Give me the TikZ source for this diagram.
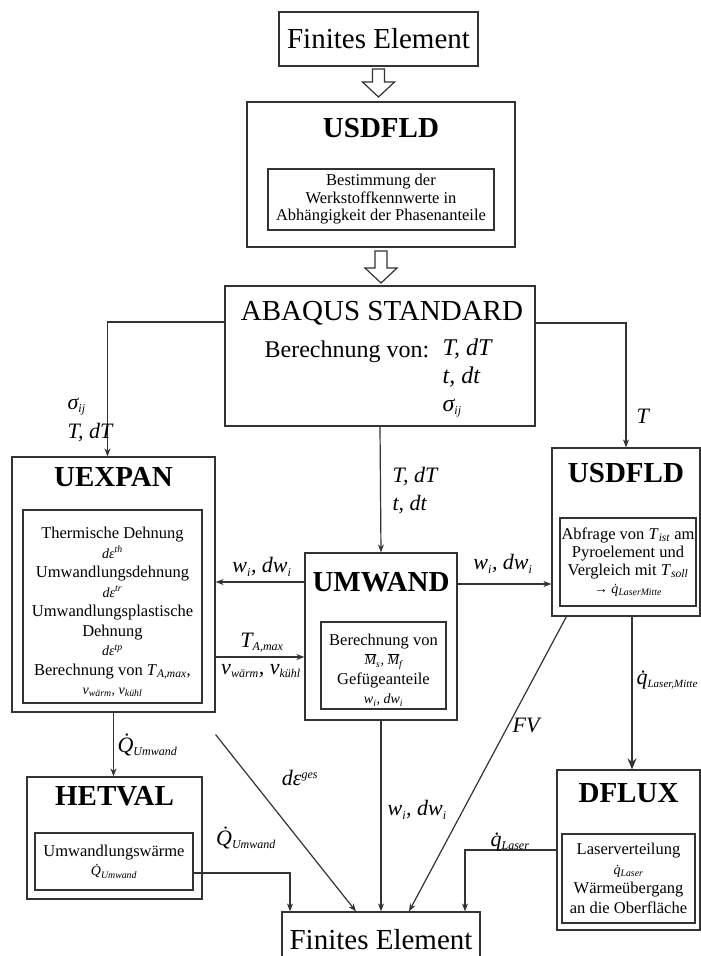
\documentclass[tikz,border=0pt]{standalone}
\usepackage{fontspec}
\setmainfont{Liberation Serif}
\usetikzlibrary{arrows.meta}
\tikzset{every picture/.style={line width=1.2pt}}
\tikzset{
  box/.style={draw=black!80, inner sep=0pt},
  inbox/.style={draw=black!80, inner sep=0pt, align=center, font=\fontsize{16.5}{19.5}\selectfont},
  intext/.style={inner sep=0pt, align=center, font=\fontsize{16.5}{19.5}\selectfont},
  title/.style={font=\fontsize{29}{32}\selectfont\bfseries, inner sep=0pt},
  lab/.style={font=\fontsize{22}{26}\selectfont\itshape, inner sep=1pt},
  arr/.style={draw=black!80, -{Stealth[length=8pt,width=6pt]}},
  pics/hollowarrow/.style={code={\draw[draw=black!80, fill=white] (-6,0) -- (-6,-#1) -- (-16,-#1) -- (0,-#1-15) -- (16,-#1) -- (6,-#1) -- (6,0) -- cycle;}}
}
\newcommand{\smallvar}[1]{{\fontsize{14}{19}\selectfont\itshape #1}}
\newcommand{\lsub}[1]{\textsubscript{\fontsize{12}{12}\selectfont #1}}
\newcommand{\lsup}[1]{\textsuperscript{\fontsize{12}{12}\selectfont #1}}

\begin{document}
\begin{tikzpicture}[x=1pt,y=1pt,yscale=-1,xscale=1]
\clip (0,0) rectangle (701,956);

%Top element
\node[box, minimum width=199pt, minimum height=54pt, font=\fontsize{29}{32}\selectfont] (fe1) at (378.5,39) {Finites Element};
\pic at (378.5,69) {hollowarrow=13};

%USDFLD (top)
\node[box, minimum width=268pt, minimum height=145pt] (usd1) at (381,174.5) {};
\node[title] (usd1T) at (381,128) {USDFLD};
\node[inbox, minimum width=226pt, minimum height=61pt, font=\fontsize{16.5}{17.5}\selectfont] (usd1I) at (381,199.5) {Bestimmung der\\Werkstoffkennwerte in\\Abhängigkeit der Phasenanteile};
\pic at (381,251) {hollowarrow=17};

%ABAQUS
\node[box, minimum width=310pt, minimum height=140pt] (abq) at (380,356) {};
\node[inner sep=0pt, font=\fontsize{29}{30}\selectfont] (abqT) at (382,313) {ABAQUS STANDARD};
\node[anchor=west, inner sep=0pt, font=\fontsize{24}{28}\selectfont] (abqB) at (264,352) {Berechnung von:};
\node[anchor=north west, inner sep=0pt, align=left, font=\fontsize{24}{28}\selectfont\itshape] (abqV) at (442,338) {T, dT\\t, dt\\σ\lsub{ij}};

%UEXPAN
\node[box, minimum width=203pt, minimum height=255pt] (uexp) at (113.5,584.5) {};
\node[title] (uexpT) at (113.5,477) {UEXPAN};
\node[box, minimum width=179pt, minimum height=193pt] (uexpI) at (112.5,606.5) {};
\node[intext] (uexpTx) at (112.5,612) {Thermische Dehnung\\\smallvar{dε\textsuperscript{th}}\\Umwandlungsdehnung\\\smallvar{dε\textsuperscript{tr}}\\Umwandlungsplastische\\Dehnung\\\smallvar{dε\textsuperscript{tp}}\\Berechnung von \textit{T}\textsubscript{\itshape A,max},\\\smallvar{v\textsubscript{wärm}, v\textsubscript{kühl}}};

%UMWAND
\node[box, minimum width=152pt, minimum height=167pt] (umw) at (381,636.5) {};
\node[title] (umwT) at (381,582) {UMWAND};
\node[box, minimum width=125pt, minimum height=87pt] (umwI) at (383.5,665.5) {};
\node[intext] (umwTx) at (383.5,670) {Berechnung von\\\smallvar{$\overline{\mbox{\itshape M}}$\textsubscript{s}, $\overline{\mbox{\itshape M}}$\textsubscript{f}}\\Gefügeanteile\\\smallvar{w\textsubscript{i}, dw\textsubscript{i}}};

%USDFLD (right)
\node[box, minimum width=148pt, minimum height=168pt] (usd2) at (626,532) {};
\node[title] (usd2T) at (626,473) {USDFLD};
\node[inbox, minimum width=136pt, minimum height=88pt, font=\fontsize{16.5}{18}\selectfont] (usd2I) at (628,562) {Abfrage von \textit{T}\textsubscript{\itshape ist} am\\Pyroelement und\\Vergleich mit \textit{T}\textsubscript{\itshape soll}\\\smallvar{→ \.{q}\textsubscript{LaserMitte}}};

%HETVAL
\node[box, minimum width=175pt, minimum height=122pt] (hetv) at (114.5,838) {};
\node[title] (hetvT) at (114.5,796) {HETVAL};
\node[inbox, minimum width=158pt, minimum height=57pt] (hetvI) at (114,861.5) {Umwandlungswärme\\\smallvar{\.{Q}\textsubscript{Umwand}}};

%DFLUX
\node[box, minimum width=143pt, minimum height=160pt] (dflux) at (628.5,850) {};
\node[title] (dfluxT) at (628.5,793) {DFLUX};
\node[inbox, minimum width=133pt, minimum height=89pt] (dfluxI) at (628.5,878.5) {Laserverteilung\\\smallvar{\.{q}\textsubscript{Laser}}\\Wärmeübergang\\an die Oberfläche};

%Bottom element
\node[box, minimum width=198pt, minimum height=56pt, font=\fontsize{29}{32}\selectfont] (fe2) at (381,940) {Finites Element};

%Connectors
\draw[arr] ([yshift=-34pt]abq.west) -| ([xshift=-6pt]uexp.north);
\node[lab, anchor=west] (sigL) at (66,407) {σ\lsub{ij}};
\node[lab, anchor=west] (tdtL) at (66,433) {T, dT};

\draw[arr] (abq.south) -- (umw.north);
\node[lab, anchor=west] (tdtM) at (391,477) {T, dT};
\node[lab, anchor=west] (tdM) at (391,505) {t, dt};

\draw[arr] ([yshift=-33pt]abq.east) -| (usd2.north);
\node[lab, anchor=west] (tR) at (635,416) {T};

\draw[arr] (umwT -| umw.west) -- (umwT -| uexp.east);
\node[lab] (wdwL) at (262,567) {w\lsub{i}, dw\lsub{i}};

\coordinate (tmax) at (260,657);
\draw[arr] (tmax -| uexp.east) -- (tmax -| umw.west);
\node[lab] (tmaxL) at (262,643) {T\lsub{A,max}};
\node[lab] (vL) at (261,671) {v\lsub{wärm}, v\lsub{kühl}};

\draw[arr] ([yshift=2pt]umwT.center -| umw.east) -- ([yshift=2pt]umwT.center -| usd2.west);
\node[lab] (wdwR) at (503,564) {w\lsub{i}, dw\lsub{i}};

\draw[draw=black!80, line width=2pt, -{Stealth[length=11pt,width=9pt]}] ([xshift=6pt]usd2.south) -- ([xshift=6pt]usd2.south |- dflux.north);
\node[lab, anchor=west] (qmL) at (635,680) {\.{q}\textsubscript{\fontsize{11}{11}\selectfont Laser,Mitte}};

\draw[arr] (uexp.south) -- (uexp.south |- hetv.north);
\node[lab, anchor=west] (qu1L) at (116,745) {\.{Q}\lsub{Umwand}};

\draw[arr] ([yshift=11.5pt]hetvI.east) -| ([xshift=-91pt]fe2.north);
\node[lab] (qu2L) at (246,838) {\.{Q}\lsub{Umwand}};

\draw[arr] ([yshift=22pt]uexp.south east) -- ([xshift=-25pt]fe2.north);
\node[lab] (degL) at (300,778) {dε\lsup{ges}};

\draw[arr] (umw.south) -- (fe2.north);
\node[lab, anchor=west] (wdwB) at (386,810) {w\lsub{i}, dw\lsub{i}};

\draw[arr] ([xshift=15pt]usd2.south west) -- ([xshift=28pt]fe2.north);
\node[lab] (fvL) at (526,725) {FV};

\draw[arr] (dflux.west) -| ([xshift=84pt]fe2.north);
\node[lab] (qlL) at (510,842) {\.{q}\lsub{Laser}};

\end{tikzpicture}
\end{document}
